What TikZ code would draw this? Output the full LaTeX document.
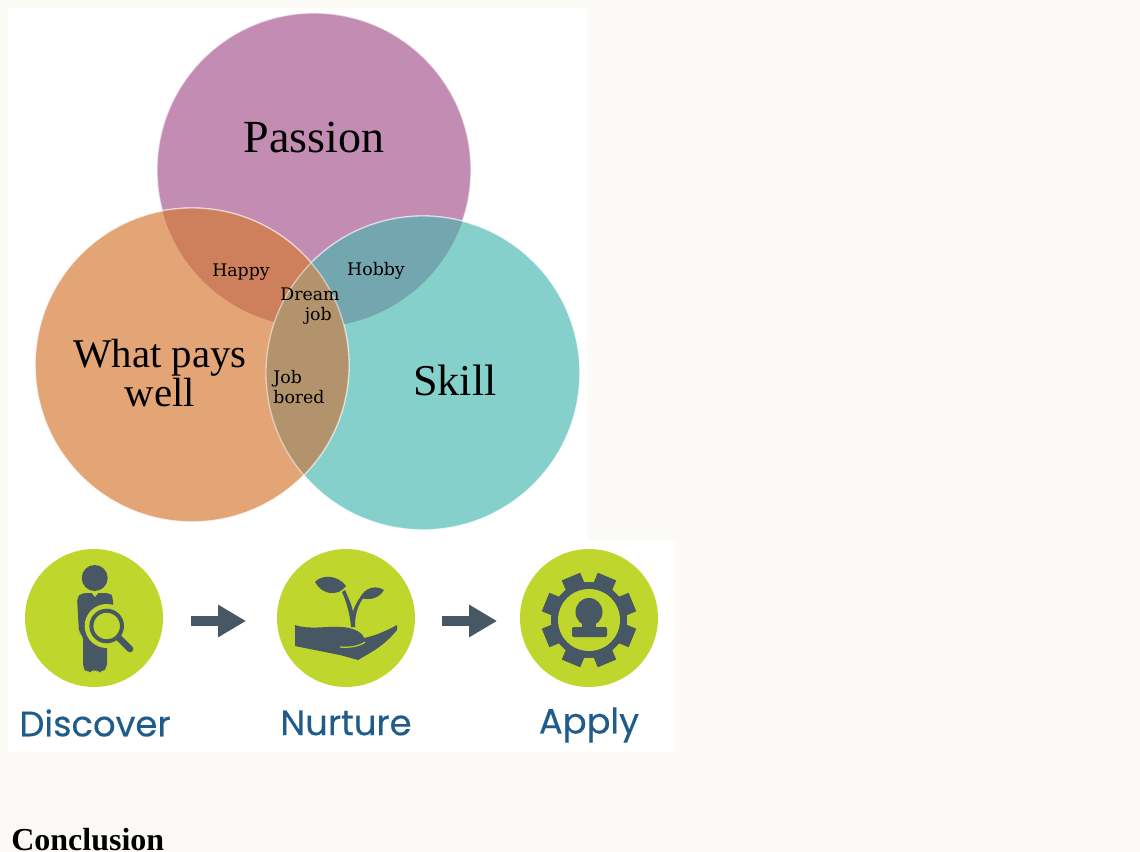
\documentclass[tikz,border=0pt]{standalone}
\usepackage{fontspec}
\setmainfont{Liberation Serif}
\newfontfamily\smallserif{DejaVu Serif}
\newfontfamily\stepfont{Poppins}[FakeBold=0.35]
\definecolor{Paper}{HTML}{FBFAF6}
\definecolor{Pink}{HTML}{C38DB3}
\definecolor{Peach}{HTML}{E3A576}
\definecolor{Teal}{HTML}{86D0CB}
\definecolor{PinkPeach}{HTML}{CE7F5B}
\definecolor{PinkTeal}{HTML}{74A6AF}
\definecolor{PeachTeal}{HTML}{B2936C}
\definecolor{Lime}{HTML}{BFD72D}
\definecolor{Slate}{HTML}{475764}
\definecolor{StepBlue}{HTML}{1F5C8C}
\usetikzlibrary{arrows.meta}
\tikzset{
    venn/.style={circle, minimum size=235.5pt, inner sep=0pt, draw=white, draw opacity=.6, line width=1pt},
    bigword/.style={align=center, text=black, font=\fontsize{34.5}{29}\selectfont},
    smallword/.style={align=center, text=black, font=\smallserif\fontsize{13}{15.5}\selectfont},
    stepdisc/.style={circle, fill=Lime, minimum size=103.5pt, inner sep=0pt},
    stepword/.style={text=StepBlue, font=\stepfont\fontsize{26.5}{26.5}\selectfont},
    stepflow/.style={draw=Slate, line width=8pt, -{Triangle[length=21pt,width=23pt]}},
}

\begin{document}
\begin{tikzpicture}[x=.75pt,y=-.75pt]
    \useasboundingbox (0,0) rectangle (1140,852);
    \fill [Paper] (0,0) rectangle (1140,852);
    \fill [white] (8,8) rectangle (587,540);
    \fill [white] (8,540) rectangle (675,752);

    % venn
    \node [venn, fill=Pink] (passion) at (314,170) {};
    \node [venn, fill=Teal] (skill) at (423,373) {};
    \node [venn, fill=Peach] (pays) at (192,365) {};
    \begin{scope}
        \clip (314,170) circle (157);
        \fill [PinkPeach] (192,365) circle (157);
        \fill [PinkTeal] (423,373) circle (157);
    \end{scope}
    \begin{scope}
        \clip (192,365) circle (157);
        \fill [PeachTeal] (423,373) circle (157);
    \end{scope}
    \draw [white, opacity=.5, line width=1pt] (192,365) circle (157);
    \draw [white, opacity=.5, line width=1pt] (423,373) circle (157);

    \node [bigword] (passionword) at (314,137) {Passion};
    \node [bigword, font=\fontsize{30.6}{29}\selectfont] (payword) at (160,373) {What pays\\well};
    \node [bigword, font=\fontsize{33}{29}\selectfont] (skillword) at (455,380) {Skill};
    \node [smallword] (happy) at (241,272) {Happy};
    \node [smallword] (hobby) at (376,271) {Hobby};
    \node [smallword] (dream) at (310,306) {Dream\\\ \ \ job};
    \node [smallword, align=left] (bored) at (299,387) {Job\\bored};

    % steps
    \node [stepdisc] (discover) at (94,618) {};
    \node [stepdisc] (nurture) at (346,618) {};
    \node [stepdisc] (apply) at (589,618) {};
    \draw [stepflow, shorten <=21pt, shorten >=23pt] ([yshift=-2.25pt]discover.east) -- ([yshift=-2.25pt]nurture.west);
    \draw [stepflow, shorten <=20pt, shorten >=17pt] ([yshift=-2.25pt]nurture.east) -- ([yshift=-2.25pt]apply.west);
    \node [stepword] (discoverword) at (95,723) {Discover};
    \node [stepword] (nurtureword) at (346,723) {Nurture};
    \node [stepword] (applyword) at (589,725) {Apply};

    % person with lens
    \fill [Slate] (94.7,578) circle (13);
    \fill [Slate, rounded corners=3pt] (77,597) -- (82,593) -- (110,593) -- (113,597) -- (113,640) -- (107,640)
        -- (107,668) -- (102,672) -- (97,672) -- (95,668) -- (93,672) -- (87,672) -- (83,668) -- (83,635) -- (79,633) -- cycle;
    \fill [Lime] (91,592) -- (99,592) -- (95,597) -- cycle;
    \fill [Lime] (106.7,626) circle (22);
    \draw [Slate, line width=3pt] (106.7,626) circle (15.3);
    \draw [Slate, line width=5pt, line cap=round] (119,638) -- (130,649);

    % sprout on hand
    \fill [Slate] (295,625) .. controls (310,630) and (325,626) .. (340,627)
        .. controls (350,627) and (362,631) .. (364,638) .. controls (375,636) and (388,630) .. (397,625)
        -- (397,630) .. controls (385,645) and (372,652) .. (358,660) -- (340,655) -- (295,646) -- cycle;
    \draw [Lime, line width=.9pt] (340,647) .. controls (350,648) and (360,646) .. (365,642);
    \fill [Slate] (315,582) .. controls (322,574) and (338,575) .. (346,586)
        .. controls (338,597) and (322,595) .. (315,582) -- cycle;
    \fill [Slate] (360,598) .. controls (365,587) and (376,585) .. (384,590)
        .. controls (378,600) and (368,600) .. (360,598) -- cycle;
    \fill [Slate] (342,592) .. controls (347,603) and (350,615) .. (351,627) -- (355,627)
        .. controls (355,613) and (358,605) .. (364,597) -- (361,596)
        .. controls (357,602) and (354,607) .. (353,612) .. controls (352,605) and (348,597) .. (345,590) -- cycle;

    % gear
    \fill [Slate] (589,620) circle (38);
    \foreach \a in {22.5,67.5,...,337.5}
        \fill [Slate, rotate around={\a:(589,620)}] (589,610) rectangle (636,630);
    \fill [Lime] (589,620) circle (31);
    \fill [Slate] (589,612) ellipse (13.5 and 14);
    \fill [Slate, rounded corners=1pt] (572,627) rectangle (607,637);
    \fill [Slate] (582,620) rectangle (596,628);

    \node [anchor=base west, inner sep=0pt, font=\bfseries\fontsize{24}{24}\selectfont] (conclusion) at (11,850) {Conclusion};
\end{tikzpicture}
\end{document}
